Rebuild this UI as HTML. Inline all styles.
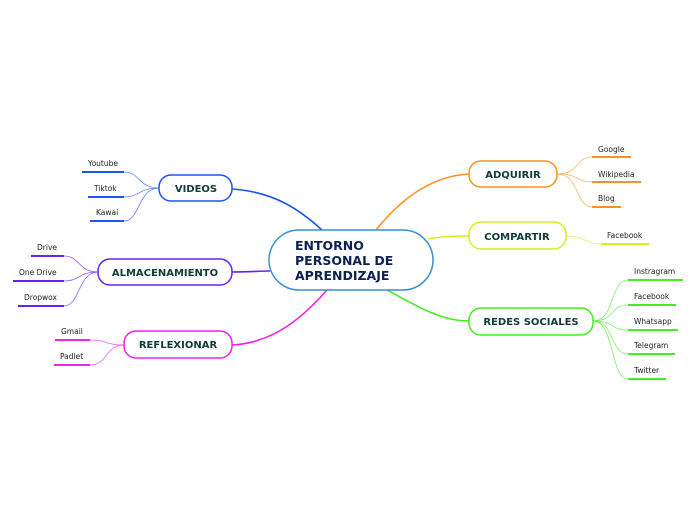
<!DOCTYPE html>
<html><head><meta charset="utf-8"><style>
html,body{margin:0;padding:0;background:#fff;width:696px;height:520px;overflow:hidden}
svg text{font-family:"DejaVu Sans","Liberation Sans",sans-serif}
.n{font-weight:bold;font-size:10px;fill:#0f3d35}
.l{font-size:7.5px;fill:#222}
</style></head><body>
<svg width="696" height="520" viewBox="0 0 696 520" xmlns="http://www.w3.org/2000/svg" fill="none">
<!-- main connectors -->
<path d="M232,189 C275,192 300,210 322,230" stroke="#1a56f0" stroke-width="1.6"/>
<path d="M232,272 C250,272 258,271 270,271" stroke="#6a22f0" stroke-width="1.6"/>
<path d="M232,345 C275,343 305,315 327,290" stroke="#ee22ee" stroke-width="1.6"/>
<path d="M376,230 C400,200 430,176 469,174" stroke="#f7931e" stroke-width="1.6"/>
<path d="M428,239 C445,236 455,236 469,236" stroke="#d4f01e" stroke-width="1.6"/>
<path d="M387,290 C415,305 440,321 469,321" stroke="#44ee22" stroke-width="1.6"/>
<!-- center -->
<rect x="269" y="230" width="164" height="60" rx="30" fill="#fff" stroke="#3a8fd0" stroke-width="1.5"/>
<text x="295" y="250" style="font-weight:bold;font-size:12.5px;fill:#0d2150">ENTORNO</text>
<text x="295" y="265" style="font-weight:bold;font-size:12.5px;fill:#0d2150">PERSONAL DE</text>
<text x="295" y="280" style="font-weight:bold;font-size:12.5px;fill:#0d2150">APRENDIZAJE</text>
<!-- ADQUIRIR -->
<g stroke="#f7931e">
<path d="M557,174 C580,174 575,157 592,157" stroke-width="0.8" stroke-opacity=".7"/>
<path d="M557,174 C580,174 575,182 592,182" stroke-width="0.8" stroke-opacity=".7"/>
<path d="M557,174 C580,174 575,207 592,207" stroke-width="0.8" stroke-opacity=".7"/>
<line x1="592" y1="157" x2="631" y2="157" stroke-width="2"/>
<line x1="592" y1="182" x2="641" y2="182" stroke-width="2"/>
<line x1="592" y1="207" x2="621" y2="207" stroke-width="2"/>
<rect x="469" y="161" width="88" height="26" rx="12" fill="#fff" stroke-width="1.5"/>
</g>
<text x="513" y="178" text-anchor="middle" class="n">ADQUIRIR</text>
<text x="598" y="152" class="l">Google</text>
<text x="598" y="177" class="l">Wikipedia</text>
<text x="598" y="201" class="l">Blog</text>
<!-- COMPARTIR -->
<g stroke="#d4f01e">
<path d="M566,236 C585,236 585,244 601,244" stroke-width="0.8" stroke-opacity=".7"/>
<line x1="601" y1="244" x2="649" y2="244" stroke-width="2"/>
<rect x="469" y="222" width="97" height="27" rx="12" fill="#fff" stroke-width="1.5"/>
</g>
<text x="517" y="240" text-anchor="middle" class="n">COMPARTIR</text>
<text x="607" y="238" class="l">Facebook</text>
<!-- REDES -->
<g stroke="#44ee22">
<path d="M593,321 C615,321 610,280 628,280" stroke-width="0.8" stroke-opacity=".7"/>
<path d="M593,321 C615,321 610,305 628,305" stroke-width="0.8" stroke-opacity=".7"/>
<path d="M593,321 C615,321 610,330 628,330" stroke-width="0.8" stroke-opacity=".7"/>
<path d="M593,321 C615,321 610,354 628,354" stroke-width="0.8" stroke-opacity=".7"/>
<path d="M593,321 C615,321 610,379 628,379" stroke-width="0.8" stroke-opacity=".7"/>
<line x1="628" y1="280" x2="683" y2="280" stroke-width="2"/>
<line x1="628" y1="305" x2="676" y2="305" stroke-width="2"/>
<line x1="628" y1="330" x2="678" y2="330" stroke-width="2"/>
<line x1="628" y1="354" x2="675" y2="354" stroke-width="2"/>
<line x1="628" y1="379" x2="666" y2="379" stroke-width="2"/>
<rect x="469" y="308" width="124" height="27" rx="12" fill="#fff" stroke-width="1.5"/>
</g>
<text x="531" y="325" text-anchor="middle" class="n">REDES SOCIALES</text>
<text x="634" y="274" class="l">Instragram</text>
<text x="634" y="299" class="l">Facebook</text>
<text x="634" y="324" class="l">Whatsapp</text>
<text x="634" y="348" class="l">Telegram</text>
<text x="634" y="373" class="l">Twitter</text>
<!-- VIDEOS -->
<g stroke="#1a56f0">
<path d="M159,188 C138,188 140,172 124,172" stroke-width="0.8" stroke-opacity=".7"/>
<path d="M159,188 C138,188 140,197 124,197" stroke-width="0.8" stroke-opacity=".7"/>
<path d="M159,188 C138,188 140,221 124,221" stroke-width="0.8" stroke-opacity=".7"/>
<line x1="82" y1="172" x2="124" y2="172" stroke-width="2"/>
<line x1="88" y1="197" x2="124" y2="197" stroke-width="2"/>
<line x1="90" y1="221" x2="124" y2="221" stroke-width="2"/>
<rect x="159" y="175" width="73" height="26" rx="12" fill="#fff" stroke-width="1.5"/>
</g>
<text x="196" y="192" text-anchor="middle" class="n">VIDEOS</text>
<text x="88" y="166" class="l">Youtube</text>
<text x="94" y="191" class="l">Tiktok</text>
<text x="96" y="215" class="l">Kawai</text>
<!-- ALMACENAMIENTO -->
<g stroke="#6a22f0">
<path d="M98,272 C78,272 80,256 64,256" stroke-width="0.8" stroke-opacity=".7"/>
<path d="M98,272 C78,272 80,281 64,281" stroke-width="0.8" stroke-opacity=".7"/>
<path d="M98,272 C78,272 80,306 64,306" stroke-width="0.8" stroke-opacity=".7"/>
<line x1="31" y1="256" x2="64" y2="256" stroke-width="2"/>
<line x1="13" y1="281" x2="64" y2="281" stroke-width="2"/>
<line x1="18" y1="306" x2="64" y2="306" stroke-width="2"/>
<rect x="98" y="259" width="134" height="26" rx="12" fill="#fff" stroke-width="1.5"/>
</g>
<text x="165" y="276" text-anchor="middle" class="n">ALMACENAMIENTO</text>
<text x="37" y="250" class="l">Drive</text>
<text x="19" y="275" class="l">One Drive</text>
<text x="24" y="300" class="l">Dropwox</text>
<!-- REFLEXIONAR -->
<g stroke="#ee22ee">
<path d="M124,345 C105,345 108,340 90,340" stroke-width="0.8" stroke-opacity=".7"/>
<path d="M124,345 C105,345 108,365 90,365" stroke-width="0.8" stroke-opacity=".7"/>
<line x1="55" y1="340" x2="90" y2="340" stroke-width="2"/>
<line x1="54" y1="365" x2="90" y2="365" stroke-width="2"/>
<rect x="124" y="331" width="108" height="27" rx="12" fill="#fff" stroke-width="1.5"/>
</g>
<text x="178" y="348" text-anchor="middle" class="n">REFLEXIONAR</text>
<text x="61" y="334" class="l">Gmail</text>
<text x="60" y="359" class="l">Padlet</text>
</svg>
</body></html>
